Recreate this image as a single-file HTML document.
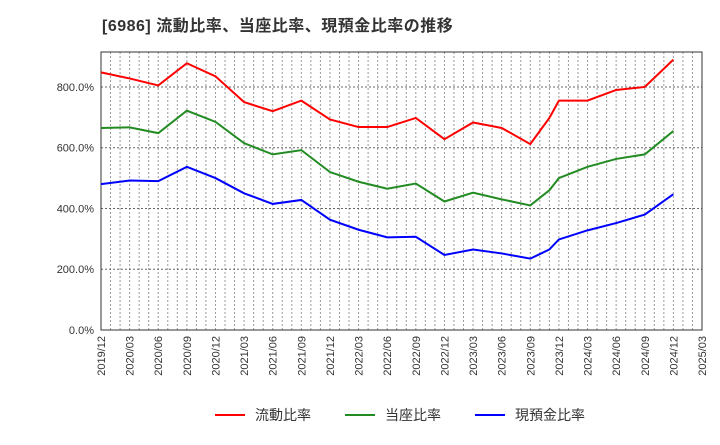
<!DOCTYPE html>
<html><head><meta charset="utf-8"><style>
body{margin:0;background:#fff;font-family:"Liberation Sans","Noto Sans CJK JP",sans-serif;}
</style></head><body>
<svg id="c" width="720" height="440" xmlns="http://www.w3.org/2000/svg">
<text x="102" y="31" font-size="16" font-weight="bold" fill="#333" letter-spacing="0.5">[6986]  流動比率、当座比率、現預金比率の推移</text>
</svg>
<script>
const months=[0,3,6,9,12,15,18,21,24,27,30,33,36,39,42,45,46,47,48,51,54,57,60];
const currentRatio=[848,828,805,878,835,750,720,755,693,668,668,698,628,683,665,612,655,698,755,755,790,800,890];
const quickRatio=[665,667,648,722,685,615,578,592,520,488,465,482,423,452,430,410,435,460,500,537,563,578,655];
const cashRatio=[480,492,490,537,500,450,415,428,363,330,305,307,247,265,252,235,250,265,298,328,352,380,447];
const yTicks=[0,200,400,600,800];
const xLabels=["2019/12","2020/03","2020/06","2020/09","2020/12","2021/03","2021/06","2021/09","2021/12","2022/03","2022/06","2022/09","2022/12","2023/03","2023/06","2023/09","2023/12","2024/03","2024/06","2024/09","2024/12","2025/03"];
const L=101,R=702,T=52,B=330,maxM=63,maxY=915;
const xs=m=>L+(R-L)*m/maxM, ys=v=>B-(B-T)*v/maxY;
const svg=document.getElementById('c'),NS="http://www.w3.org/2000/svg";
function mk(t,a){const e=document.createElementNS(NS,t);for(const k in a)e.setAttribute(k,a[k]);svg.appendChild(e);return e;}
for(let m=1;m<maxM;m++){const g=mk('line',{x1:xs(m),x2:xs(m),y1:T,y2:B,stroke:'#999','stroke-dasharray':'2,2','stroke-width':1});

}
yTicks.forEach(v=>{const g=mk('line',{x1:L,x2:R,y1:ys(v),y2:ys(v),stroke:'#666','stroke-dasharray':'2,2','stroke-width':1});


const t=mk('text',{x:L-7,y:ys(v)+4,'text-anchor':'end','font-size':11,fill:'#333'});t.textContent=v.toFixed(1)+'%';

});
xLabels.forEach((s,i)=>{const x=xs(i*3);const t=mk('text',{transform:`translate(${x+4},${B+6}) rotate(-90)`,'text-anchor':'end','font-size':11,fill:'#333'});t.textContent=s;

});
const fr=mk('rect',{x:L,y:T,width:R-L,height:B-T,fill:'none',stroke:'#333'});


const series=[[currentRatio,'#ff0000','current-ratio-line'],[quickRatio,'#228b22','quick-ratio-line'],[cashRatio,'#0000ff','cash-ratio-line']];
series.forEach(([d,c,n])=>{const p=mk('polyline',{points:d.map((v,i)=>xs(months[i])+','+ys(v)).join(' '),fill:'none',stroke:c,'stroke-width':2});

});
const leg=[['流動比率','#ff0000',215],['当座比率','#228b22',345],['現預金比率','#0000ff',475]];
leg.forEach(([s,c,x])=>{const l=mk('line',{x1:x,x2:x+30,y1:415,y2:415,stroke:c,'stroke-width':2});


const t=mk('text',{x:x+40,y:420,'font-size':14,fill:'#333'});t.textContent=s;

});
</script>
</body></html>
